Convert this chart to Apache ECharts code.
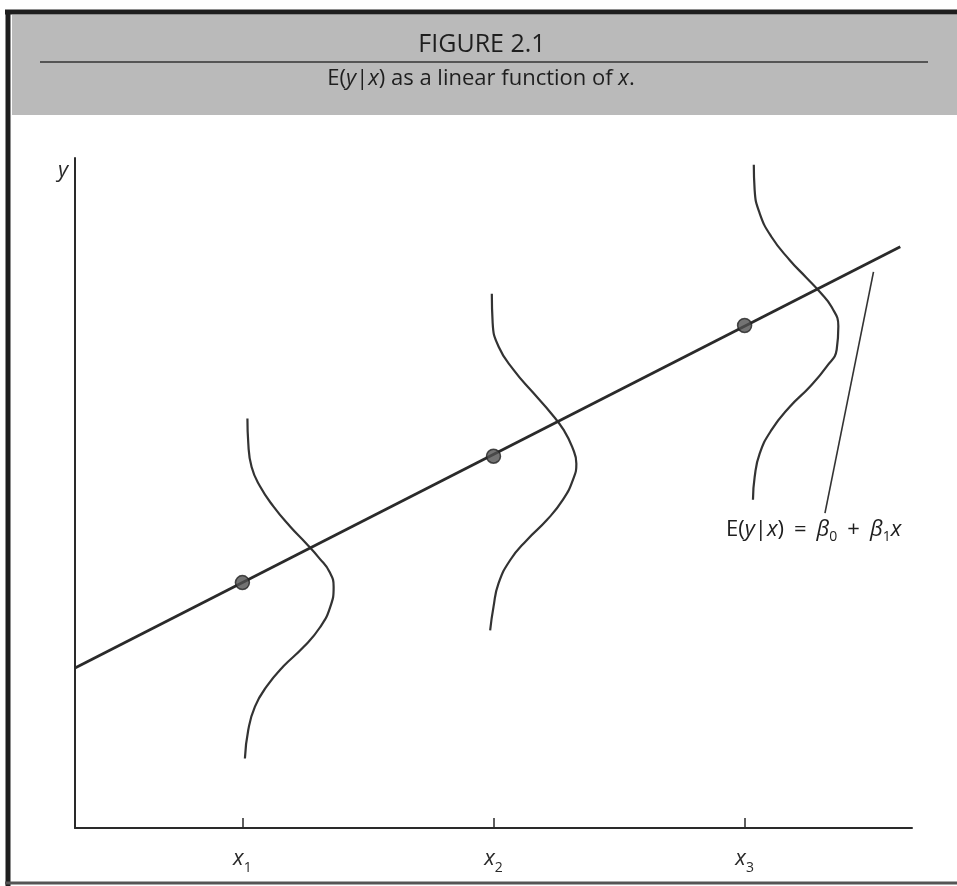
<!DOCTYPE html>
<html>
<head>
<meta charset="utf-8">
<script src="https://cdn.jsdelivr.net/npm/echarts@6/dist/echarts.min.js"></script>
<style>
html,body{margin:0;padding:0;background:#ffffff;}
#chart{width:957px;height:886px;}
</style>
</head>
<body>
<div id="chart"></div>
<script>
// ---- data (arbitrary units: x 0..100, y 0..80) ----
const figureTitle = 'FIGURE 2.1';
const xTickValues = [20, 50, 80];
const xTickSubscripts = ['1', '2', '3'];

// E(y|x) line endpoints
const lineX = [0, 98.6];
const lineY = [19.1, 69.4];

// conditional means at x1, x2, x3
const meanX = [20, 50, 80];
const meanY = [29.3, 44.4, 60.0];

// conditional density curves (top to bottom)
const curve1 = [[20.6,48.9],[20.7,46.0],[21.1,43.1],[22.1,40.8],[23.7,38.4],[25.7,36.0],[27.6,34.0],[29.2,32.2],[30.4,30.6],[30.9,28.8],[30.5,26.4],[29.3,24.0],[27.3,21.6],[24.9,19.3],[22.9,16.9],[21.5,14.5],[20.7,11.7],[20.3,8.3]];
const curve2 = [[49.8,63.8],[49.9,60.3],[50.6,57.5],[52.4,54.7],[54.8,51.9],[56.9,49.5],[58.4,47.5],[59.4,45.5],[59.9,43.5],[59.5,41.6],[58.3,39.2],[56.4,36.8],[54.0,34.4],[52.0,32.0],[50.6,29.2],[50.0,26.4],[49.6,23.6]];
const curve3 = [[81.1,79.2],[81.2,76.2],[81.8,73.4],[83.2,70.6],[85.4,67.8],[87.3,65.8],[89.0,64.0],[90.4,62.2],[91.2,59.9],[91.0,57.1],[89.8,55.1],[87.8,52.7],[85.4,50.3],[83.2,47.5],[81.8,44.7],[81.2,41.9],[81.0,39.2]];

// leader line from the annotation to the regression line
const leaderX = [95.4, 89.6];
const leaderY = [66.4, 37.6];

// ---- chart ----
const chart = echarts.init(document.getElementById('chart'), null, {renderer: 'canvas'});
const FONT = '"Open Sans", "DejaVu Sans", sans-serif';
const ink = '#2a2a2a';

function pairs(xs, ys) { return xs.map((x, i) => [x, ys[i]]); }

const curveSeries = [curve1, curve2, curve3].map((c, i) => ({
  type: 'line',
  name: 'density' + (i + 1),
  data: c,
  smooth: 0.5,
  symbol: 'none',
  lineStyle: {color: '#333333', width: 2.2},
  z: 2
}));

chart.setOption({
  backgroundColor: '#ffffff',
  animation: false,
  grid: {left: 75, right: 45, top: 158, bottom: 58, containLabel: false},
  xAxis: {
    type: 'value', min: 0, max: 100,
    axisLine: {show: true, lineStyle: {color: ink, width: 2}},
    splitLine: {show: false},
    axisTick: {show: true, inside: true, length: 10, customValues: xTickValues, lineStyle: {color: ink, width: 1.5}},
    axisLabel: {
      show: true, margin: 17, customValues: xTickValues,
      formatter: function (v) {
        const i = xTickValues.indexOf(v);
        return '{v|x}{s|' + xTickSubscripts[i] + '}';
      },
      rich: {
        v: {fontFamily: FONT, fontSize: 22, fontStyle: 'italic', color: '#2a2a2a', lineHeight: 28},
        s: {fontFamily: FONT, fontSize: 14, color: '#2a2a2a', lineHeight: 28, verticalAlign: 'bottom', padding: [0, 0, -2, 0]}
      }
    }
  },
  yAxis: {
    type: 'value', min: 0, max: 80,
    axisLine: {show: true, lineStyle: {color: ink, width: 2}},
    splitLine: {show: false},
    axisTick: {show: false},
    axisLabel: {show: false}
  },
  series: [
    {
      type: 'line', name: 'E(y|x)', data: pairs(lineX, lineY), symbol: 'none',
      lineStyle: {color: ink, width: 2.8}, z: 3
    },
    ...curveSeries,
    {
      type: 'line', name: 'leader', data: pairs(leaderX, leaderY), symbol: 'none',
      lineStyle: {color: '#333', width: 1.6}, z: 2
    },
    {
      type: 'scatter', name: 'means', data: pairs(meanX, meanY), symbolSize: 14,
      itemStyle: {color: '#505050', borderColor: '#222', borderWidth: 1.5}, z: 4
    }
  ],
  graphic: [
    // outer frame
    {type: 'rect', shape: {x: 0, y: 0, width: 957, height: 886}, style: {fill: '#ffffff'}, z: -10, silent: true},
    {type: 'rect', shape: {x: 12, y: 15, width: 945, height: 100}, style: {fill: '#bababa'}, z: -5, silent: true},
    {type: 'line', shape: {x1: 5, y1: 12, x2: 957, y2: 12}, style: {stroke: '#1e1e1e', lineWidth: 5}, silent: true},
    {type: 'line', shape: {x1: 8, y1: 10, x2: 8, y2: 886}, style: {stroke: '#1e1e1e', lineWidth: 5}, silent: true},
    {type: 'line', shape: {x1: 5, y1: 883, x2: 957, y2: 883}, style: {stroke: '#555555', lineWidth: 3}, silent: true},
    // separator in header
    {type: 'line', shape: {x1: 40, y1: 62, x2: 928, y2: 62}, style: {stroke: '#333333', lineWidth: 1.5}, silent: true},
    // header texts
    {type: 'text', x: 482, y: 45, style: {text: figureTitle, fontFamily: FONT, fontSize: 25, fill: '#1e1e1e', align: 'center', verticalAlign: 'middle'}, silent: true},
    {type: 'text', x: 481, y: 79, style: {
      text: '{n|E(}{i|y}{n||}{i|x}{n|) as a linear function of }{i|x}{n|.}',
      align: 'center', verticalAlign: 'middle',
      rich: {
        n: {fontFamily: FONT, fontSize: 22, fill: '#1e1e1e'},
        i: {fontFamily: FONT, fontSize: 22, fontStyle: 'italic', fill: '#1e1e1e'}
      }
    }, silent: true},
    // y axis name
    {type: 'text', x: 63, y: 171, style: {text: 'y', fontFamily: FONT, fontSize: 22, fontStyle: 'italic', fill: '#2a2a2a', align: 'center', verticalAlign: 'middle'}, silent: true},
    // annotation
    {type: 'text', x: 726, y: 530, style: {
      text: '{n|E(}{i|y}{n||}{i|x}{n|)}{o|=}{i|β}{s|0}{o|+}{i|β}{s|1}{i|x}',
      align: 'left', verticalAlign: 'middle',
      rich: {
        n: {fontFamily: FONT, fontSize: 22, fill: '#1e1e1e', lineHeight: 28},
        o: {fontFamily: FONT, fontSize: 22, fill: '#1e1e1e', lineHeight: 28, padding: [0, 10, 0, 10]},
        i: {fontFamily: FONT, fontSize: 22, fontStyle: 'italic', fill: '#1e1e1e', lineHeight: 28},
        s: {fontFamily: FONT, fontSize: 14, fill: '#1e1e1e', lineHeight: 28, verticalAlign: 'bottom'}
      }
    }, silent: true}
  ]
});
</script>
</body>
</html>
